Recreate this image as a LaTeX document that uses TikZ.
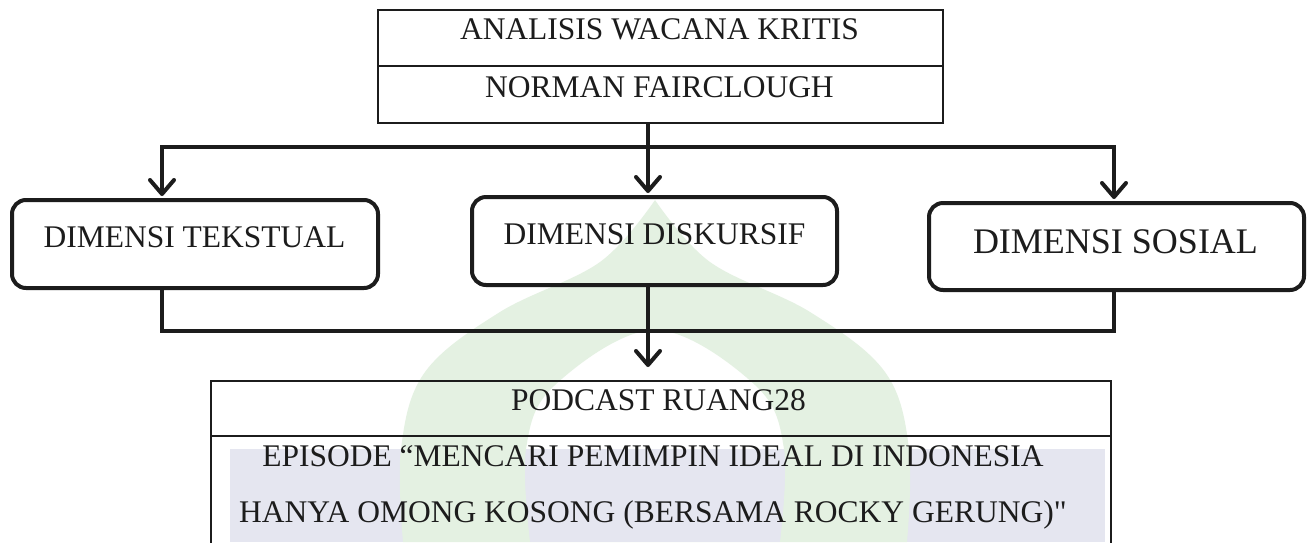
\documentclass[tikz,border=0pt]{standalone}
\usepackage{fontspec}
\setmainfont{Liberation Serif}[Ligatures=TeXOff]
\usetikzlibrary{arrows.meta}
\definecolor{ink}{HTML}{1C1C1C}
\definecolor{wmgreen}{HTML}{E4F1E2}
\definecolor{wmblue}{HTML}{E5E6F0}
\begin{document}
\begin{tikzpicture}[x=1pt,y=-1pt,
  txt/.style={font=\fontsize{31.5}{38}\selectfont, text=ink, anchor=base, inner sep=0pt},
  rbox/.style={draw=ink, line width=4pt, rounded corners=14pt, inner sep=0pt},
  sqbox/.style={draw=ink, line width=2pt, inner sep=0pt},
  sqline/.style={draw=ink, line width=2pt},
  conn/.style={draw=ink, line width=4pt},
  arr/.style={conn, -{Straight Barb[length=14pt,width=24pt,line width=4pt,round]}}]
\useasboundingbox (0,0) rectangle (1314,542);
\fill[white] (0,0) rectangle (1314,542);
% watermark (background)
\fill[wmblue] (230,449) rectangle (1105,542);
\fill[wmgreen, even odd rule]
  plot[smooth, tension=0.6] coordinates {(403,542) (401,449) (425,372) (500,312) (600,262) (655,200)}
  -- plot[smooth, tension=0.6] coordinates {(655,200) (710,262) (810,312) (885,372) (909,449) (907,542)}
  -- cycle
  plot[smooth, tension=0.6] coordinates {(530,542) (526,449) (555,385) (655,330) (755,385) (784,449) (780,542)}
  -- cycle;
% top box
\node[sqbox, minimum width=565pt, minimum height=113pt, anchor=north west] (top) at (377,9) {};
\coordinate (topdiv) at (377,66);
\draw[sqline] (top.west |- topdiv) -- (top.east |- topdiv);
\node[txt] (t1) at (659.5,39) {ANALISIS WACANA KRITIS};
\node[txt] (t2) at (659.5,97) {NORMAN FAIRCLOUGH};
% dimension boxes
\node[rbox, minimum width=366pt, minimum height=88pt] (tek) at (195,244) {};
\node[rbox, minimum width=365pt, minimum height=88pt] (dis) at (654.5,241) {};
\node[rbox, minimum width=375pt, minimum height=87pt] (sos) at (1116.5,246.5) {};
\node[txt] (tekT) at (194.5,247) {DIMENSI TEKSTUAL};
\node[txt] (disT) at (654.5,244) {DIMENSI DISKURSIF};
\node[txt, font=\fontsize{36}{42}\selectfont] (sosT) at (1115.5,253) {DIMENSI SOSIAL};
% bottom box
\node[sqbox, minimum width=900pt, minimum height=180pt, anchor=north west] (pod) at (210,380) {};
\coordinate (poddiv) at (210,436);
\draw[sqline] (pod.west |- poddiv) -- (pod.east |- poddiv);
\node[txt] (p1) at (658.5,410) {PODCAST RUANG28};
\node[txt] (p2) at (653,466) {EPISODE “MENCARI PEMIMPIN IDEAL DI INDONESIA};
\node[txt] (p3) at (653,522) {HANYA OMONG KOSONG (BERSAMA ROCKY GERUNG)"};
% upper connectors
\coordinate (hL) at (162,147);
\coordinate (hC) at (648,147);
\coordinate (hR) at (1114,147);
\draw[arr, shorten >=2pt] (hC) -- (hL) -- (tek.north -| hL);
\draw[arr, shorten >=2pt] (hC) -- (hR) -- (sos.north -| hR);
\draw[arr, shorten >=2pt] (top.south -| hC) -- (dis.north -| hC);
% lower connectors
\coordinate (bL) at (162,331);
\coordinate (bC) at (648,331);
\coordinate (bR) at (1114,331);
\draw[conn] (tek.south -| bL) -- (bL) -- (bR) -- (sos.south -| bR);
\draw[arr, shorten >=13pt] (dis.south -| bC) -- (pod.north -| bC);
\end{tikzpicture}
\end{document}
